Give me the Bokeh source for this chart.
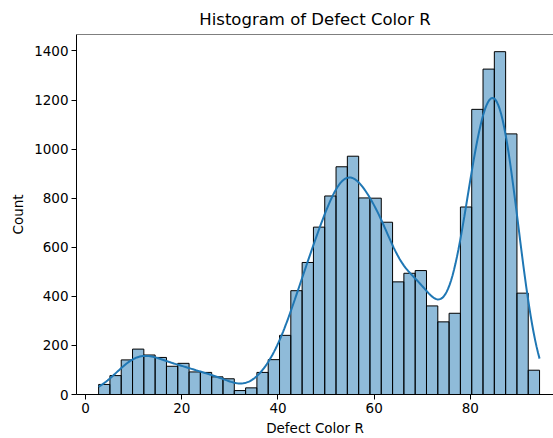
import numpy as np
from bokeh.plotting import figure
from bokeh.models import Range1d, Span, FixedTicker
from bokeh.embed import file_html
from bokeh.resources import INLINE

# ---- data ----
bin_start = 2.7
bin_end = 94.4
counts = [41, 77, 141, 185, 161, 151, 115, 127, 92, 90, 72, 64, 16, 27, 90,
          142, 241, 423, 538, 682, 809, 928, 971, 801, 800, 702, 459, 494, 505,
          361, 296, 331, 764, 1162, 1326, 1397, 1062, 413, 99]
x_ticks = [0, 20, 40, 60, 80]
y_ticks = [0, 200, 400, 600, 800, 1000, 1200, 1400]
title = "Histogram of Defect Color R"
x_label = "Defect Color R"
y_label = "Count"

# ---- derived ----
counts_a = np.array(counts, dtype=float)
edges = np.linspace(bin_start, bin_end, len(counts) + 1)
left = edges[:-1]
right = edges[1:]
centers = (left + right) / 2
bw_bin = edges[1] - edges[0]

# Gaussian KDE of the binned data (Scott's rule), scaled to counts
n = counts_a.sum()
mean = (counts_a * centers).sum() / n
std = np.sqrt((counts_a * (centers - mean) ** 2).sum() / n)
bw = std * n ** (-0.2)
grid = np.linspace(bin_start, bin_end, 300)
dens = (counts_a[None, :] * np.exp(-0.5 * ((grid[:, None] - centers[None, :]) / bw) ** 2)).sum(axis=1)
dens = dens / (bw * np.sqrt(2 * np.pi)) / n
kde = dens * n * bw_bin

C0 = "#1f77b4"
FONT = "DejaVu Sans"

p = figure(width=553, height=438, output_backend="svg", toolbar_location=None,
           x_range=Range1d(-1.9, 97.3), y_range=Range1d(0, 1467),
           min_border_left=76, min_border_right=0, min_border_top=34,
           min_border_bottom=42, title=title)
p.outline_line_color = None
p.grid.visible = False
p.background_fill_color = "white"
p.border_fill_color = "white"

p.quad(left=left, right=right, top=counts_a, bottom=0,
       fill_color=C0, fill_alpha=0.5, line_color="black", line_width=1)
p.line(grid, kde, line_color=C0, line_width=2)

p.add_layout(Span(location=1467, dimension="width", line_color="black", line_width=1))

p.title.align = "center"
p.title.text_font = FONT
p.title.text_font_size = "16.5px"
p.title.text_font_style = "normal"
p.title.text_color = "black"
p.title.standoff = 12

for ax in (p.xaxis[0], p.yaxis[0]):
    ax.major_label_text_font = FONT
    ax.major_label_text_font_size = "13.5px"
    ax.major_label_text_color = "black"
    ax.axis_label_text_font = FONT
    ax.axis_label_text_font_size = "13.5px"
    ax.axis_label_text_font_style = "normal"
    ax.axis_label_text_color = "black"
    ax.major_tick_in = 0
    ax.major_tick_out = 5
    ax.minor_tick_line_color = None
    ax.axis_line_color = "black"
    ax.major_tick_line_color = "black"

p.xaxis[0].ticker = FixedTicker(ticks=x_ticks)
p.yaxis[0].ticker = FixedTicker(ticks=y_ticks)
p.xaxis[0].axis_label = x_label
p.yaxis[0].axis_label = y_label
p.xaxis[0].axis_label_standoff = 4
p.yaxis[0].axis_label_standoff = 5
p.yaxis[0].major_label_standoff = 3
p.xaxis[0].major_label_standoff = 3

open("out.html", "w").write(file_html(p, INLINE))
